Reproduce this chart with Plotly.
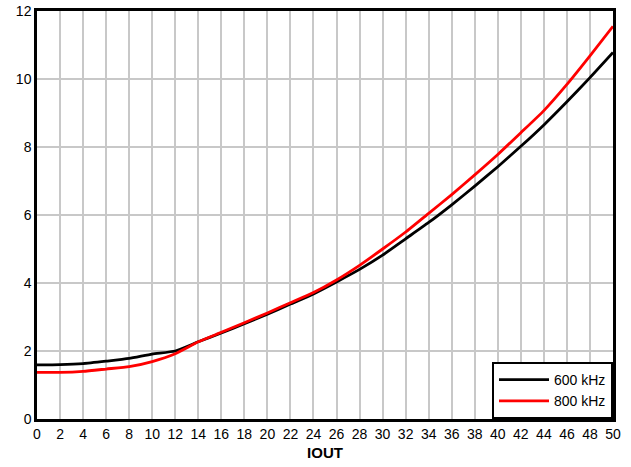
import plotly.graph_objects as go

iout = [0, 2, 4, 6, 8, 10, 12, 14, 16, 18, 20, 22, 24, 26, 28, 30, 32, 34, 36, 38, 40, 42, 44, 46, 48, 50]
y_600 = [1.59, 1.60, 1.63, 1.70, 1.78, 1.91, 2.00, 2.27, 2.53, 2.80, 3.08, 3.38, 3.68, 4.03, 4.40, 4.82, 5.30, 5.78, 6.30, 6.85, 7.42, 8.02, 8.65, 9.33, 10.04, 10.78]
y_800 = [1.37, 1.37, 1.40, 1.47, 1.54, 1.69, 1.92, 2.27, 2.55, 2.83, 3.12, 3.42, 3.72, 4.09, 4.52, 5.00, 5.50, 6.05, 6.60, 7.18, 7.78, 8.42, 9.07, 9.84, 10.68, 11.55]
series_names = ["600 kHz", "800 kHz"]
x_ticks = list(range(0, 51, 2))
y_ticks = list(range(0, 13, 2))

fig = go.Figure()
fig.add_trace(go.Scatter(x=iout, y=y_600, mode="lines", name=series_names[0],
                         line=dict(color="#000000", width=2.8, shape="spline", smoothing=0.5)))
fig.add_trace(go.Scatter(x=iout, y=y_800, mode="lines", name=series_names[1],
                         line=dict(color="#ff0000", width=2.8, shape="spline", smoothing=0.5)))

fig.update_layout(
    width=631, height=467,
    margin=dict(l=37, r=18, t=11, b=48, autoexpand=False),
    paper_bgcolor="white", plot_bgcolor="white",
    font=dict(family="Liberation Sans, Arial, sans-serif", size=14, color="#000000"),
    showlegend=True,
    legend=dict(x=1, y=0, xanchor="right", yanchor="bottom",
                bordercolor="#000000", borderwidth=2, bgcolor="white",
                font=dict(size=14), tracegroupgap=0, itemwidth=50),
    xaxis=dict(range=[0, 50], tickvals=x_ticks, ticktext=[str(v) for v in x_ticks],
               showgrid=True, gridcolor="#c8c8c8", gridwidth=1.5,
               showline=True, linecolor="#000000", linewidth=2.5, mirror=True,
               ticks="", zeroline=False, automargin=False,
               title=dict(text="<b>IOUT</b>", font=dict(size=15), standoff=7),
               tickfont=dict(size=14)),
    yaxis=dict(range=[0, 12], tickvals=y_ticks, ticktext=[str(v) for v in y_ticks],
               showgrid=True, gridcolor="#c8c8c8", gridwidth=1.5,
               showline=True, linecolor="#000000", linewidth=2.5, mirror=True,
               ticks="", zeroline=False, automargin=False, tickfont=dict(size=14)),
)

fig.write_html("out.html", config={"displayModeBar": False},
               post_script="document.body.style.margin='0';document.body.style.padding='0';")
